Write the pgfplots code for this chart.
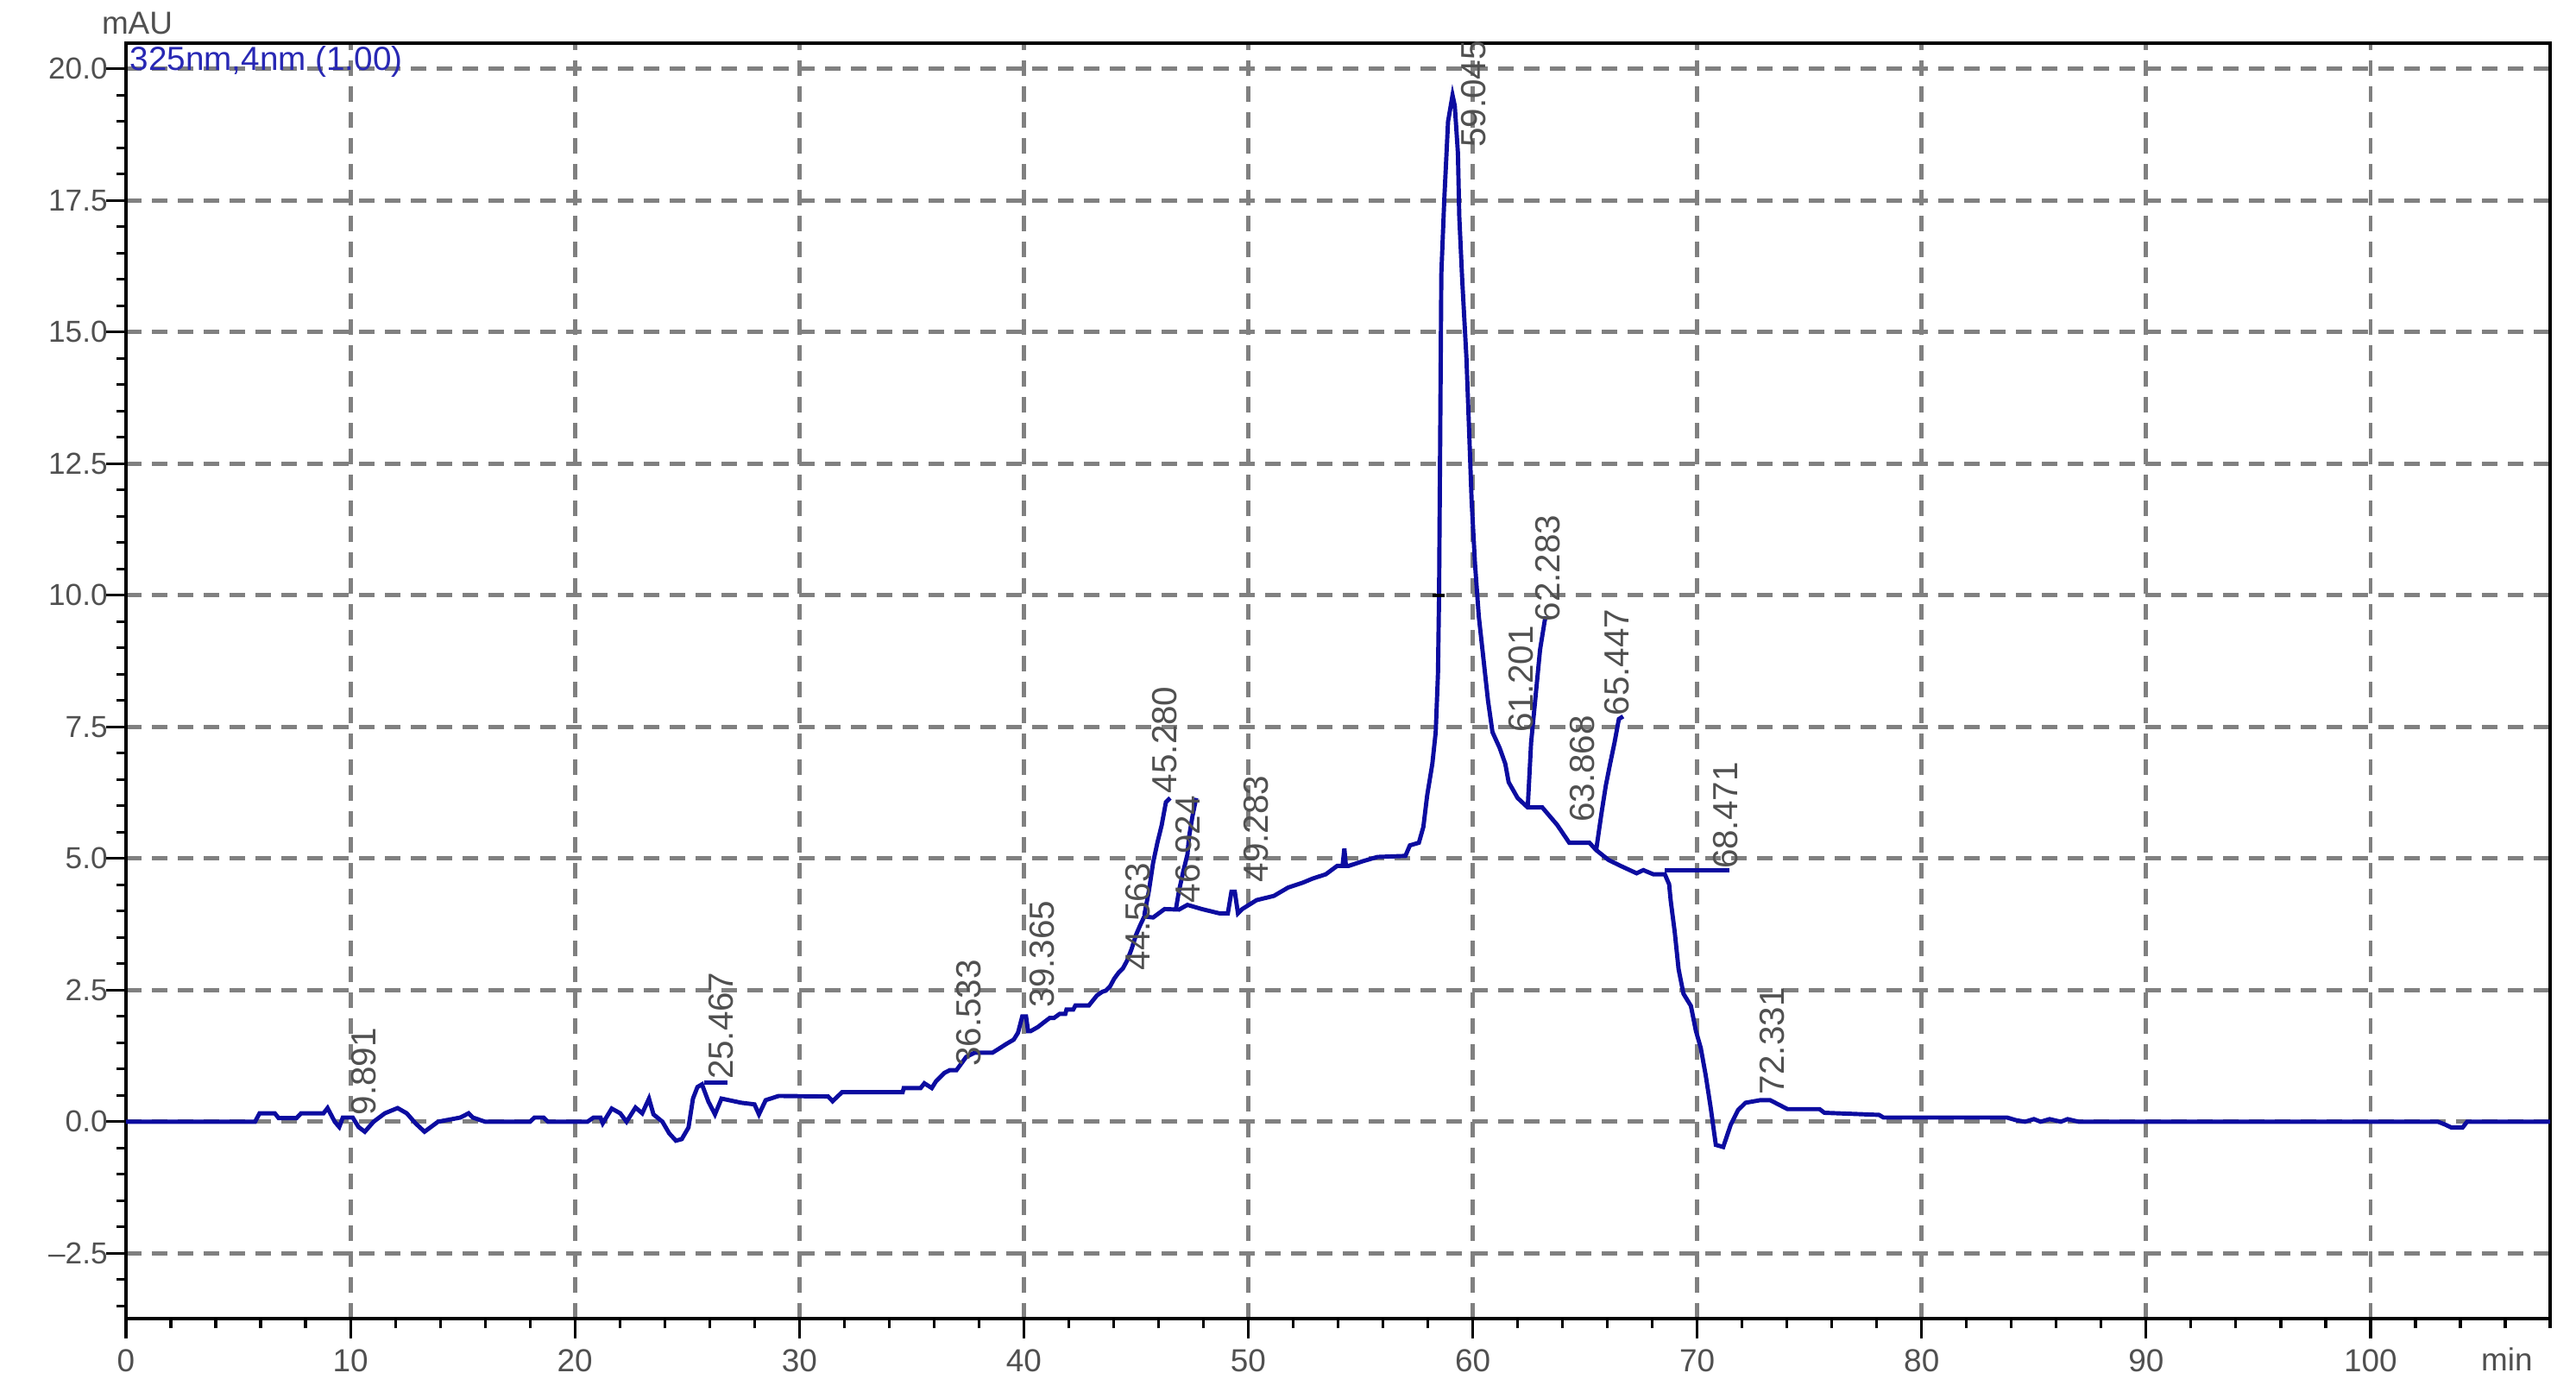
\documentclass[border=0pt]{standalone}
\usepackage{fontspec}
\setmainfont{Liberation Sans}
\usepackage{pgfplots}
\pgfplotsset{compat=1.18}
\definecolor{trace}{HTML}{0C0CA0}
\definecolor{gridc}{HTML}{808080}
\definecolor{lbl}{HTML}{505050}
\definecolor{chan}{HTML}{2828B4}
\tikzset{pk/.style={rotate=90,anchor=west,inner sep=0pt,text=lbl,font=\fontsize{11.5}{12}\selectfont}}

\begin{document}
\begin{tikzpicture}
\useasboundingbox (-14.6mm,-9.1mm) rectangle (283.9mm,152.8mm);
\begin{axis}[at={(0,0)},anchor=south west,
  scale only axis,width=280.9mm,height=147.8mm,
  xmin=0,xmax=108,ymin=-3.74,ymax=20.49,
  axis line style={line width=1.2pt},
  xtick={0,10,...,100},minor xtick={0,2,...,108},
  xticklabels={0,10,20,30,40,50,60,70,80,90,100},
  ytick={-2.5,0,...,20},minor ytick={-3.5,-3,...,20},
  yticklabels={\textendash2.5,0.0,2.5,5.0,7.5,10.0,12.5,15.0,17.5,20.0},
  tick pos=left,tick align=outside,
  major tick length=2.3mm,minor tick length=1.1mm,
  tick style={black,line width=0.9pt},
  grid=major,major grid style={gridc,line width=1.4pt,dash pattern=on 1.8mm off 1.2mm},
  tick label style={font=\fontsize{10.5}{12}\selectfont,text=lbl},
  yticklabel style={font=\fontsize{10}{11}\selectfont,xshift=1.4mm},
  clip=false]

% chromatogram trace
\addplot[trace,line width=1.4pt] coordinates {
(0,0)(5.75,0)(5.95,0.16)(6.63,0.16)(6.8,0.07)(7.6,0.07)(7.8,0.16)(8.8,0.16)(8.98,0.26)(9.3,0)(9.5,-0.1)
(9.66,0.08)(10.1,0.08)(10.36,-0.1)(10.64,-0.19)(11.03,0)(11.53,0.16)(12.1,0.26)(12.51,0.16)(12.9,-0.03)
(13.3,-0.19)(13.9,0)(14.9,0.08)(15.26,0.16)(15.45,0.08)(16.0,0)(18.0,0)(18.2,0.08)(18.6,0.08)(18.8,0)
(20.56,0)(20.83,0.08)(21.14,0.08)(21.24,-0.03)(21.64,0.25)(22.02,0.16)(22.3,0)(22.7,0.27)(23.0,0.16)
(23.3,0.44)(23.5,0.14)(23.9,0)(24.2,-0.22)(24.5,-0.36)(24.76,-0.33)(25.06,-0.11)(25.26,0.44)(25.46,0.66)
(25.66,0.71)(25.95,0.38)(26.24,0.14)(26.53,0.44)(27.42,0.36)(28.0,0.33)(28.2,0.14)(28.5,0.41)(29.08,0.49)
(31.28,0.48)(31.48,0.39)(31.9,0.56)(34.6,0.56)(34.65,0.64)(35.4,0.64)(35.57,0.73)(35.9,0.64)(36.09,0.77)
(36.28,0.85)(36.47,0.93)(36.7,0.98)(37.0,0.98)(37.24,1.12)(37.43,1.23)(37.8,1.31)(38.6,1.31)(38.9,1.39)
(39.23,1.48)(39.55,1.56)(39.74,1.69)(39.93,2.0)(40.1,2.0)(40.19,1.72)(40.3,1.72)(40.63,1.80)(40.9,1.89)
(41.15,1.97)(41.34,1.97)(41.6,2.05)(41.85,2.05)(41.9,2.13)(42.2,2.13)(42.3,2.21)(42.9,2.21)(43.07,2.30)
(43.26,2.4)(43.5,2.47)(43.65,2.49)(43.84,2.57)(44.03,2.72)(44.22,2.83)(44.41,2.91)(44.6,3.06)(44.8,3.28)
(45.0,3.55)(45.18,3.73)(45.37,3.90)(45.76,3.88)(46.27,4.04)(46.91,4.03)(47.29,4.12)(47.93,4.04)(48.7,3.96)
(49.09,3.96)(49.25,4.37)(49.4,4.37)(49.54,3.96)(49.73,4.04)(50.37,4.21)(51.14,4.29)(51.78,4.45)(52.42,4.54)
(52.87,4.62)(53.45,4.70)(53.96,4.86)(54.2,4.86)(54.28,5.19)(54.35,4.86)(54.47,4.86)(55.11,4.95)(55.75,5.03)
(57.0,5.05)(57.2,5.25)(57.6,5.3)(57.8,5.6)(57.97,6.2)(58.2,6.8)(58.35,7.4)(58.45,8.5)(58.5,10.0)(58.55,13)
(58.6,16.1)(58.73,17.5)(58.9,19.0)(59.1,19.5)(59.2,19.3)(59.34,18.4)(59.4,17.2)(59.53,16.0)(59.72,14.5)
(59.85,13.0)(59.95,11.8)(60.1,10.6)(60.27,9.6)(60.45,8.9)(60.68,8.0)(60.88,7.4)(61.2,7.1)(61.45,6.8)
(61.6,6.45)(62.0,6.15)(62.45,5.97)(63.1,5.97)(63.76,5.64)(64.3,5.30)(65.2,5.30)(65.5,5.16)(66.06,4.97)
(66.64,4.85)(67.3,4.72)(67.6,4.78)(68.05,4.70)(68.56,4.70)(68.75,4.51)(68.82,4.2)(69.0,3.6)(69.17,2.90)
(69.39,2.43)(69.72,2.20)(69.94,1.73)(70.16,1.40)(70.38,0.88)(70.6,0.27)(70.83,-0.44)(71.16,-0.48)
(71.49,-0.06)(71.82,0.22)(72.15,0.36)(72.81,0.41)(73.25,0.41)(74.02,0.24)(75.45,0.24)(75.67,0.17)
(78.1,0.13)(78.3,0.08)(83.8,0.08)(84.2,0.03)(84.6,0.0)(85.0,0.05)(85.3,0.0)(85.7,0.05)(86.2,0.0)
(86.5,0.05)(87.0,0)(103.0,0)(103.3,-0.05)(103.6,-0.11)(104.1,-0.11)(104.3,0)(108,0)};

% baselines and peak marks
\addplot[trace,line width=1.4pt] coordinates {(25.75,0.74)(26.8,0.74)};
\addplot[trace,line width=1.4pt] coordinates {(45.37,3.93)(45.57,4.38)(45.76,4.92)(45.95,5.30)(46.14,5.63)(46.33,6.07)(46.52,6.15)};
\addplot[trace,line width=1.4pt] coordinates {(46.78,4.05)(46.91,4.38)(47.1,4.75)(47.29,5.08)(47.36,5.41)(47.52,5.82)(47.68,6.15)};
\addplot[trace,line width=1.4pt] coordinates {(62.45,5.97)(62.6,7.2)(63.0,8.97)(63.2,9.5)(63.25,9.6)};
\addplot[trace,line width=1.4pt] coordinates {(65.5,5.16)(65.6,5.46)(65.75,5.9)(65.93,6.39)(66.12,6.8)(66.32,7.21)(66.51,7.65)(66.7,7.7)};
\addplot[trace,line width=1.4pt] coordinates {(68.56,4.78)(71.44,4.78)};
\addplot[black,line width=1pt] coordinates {(58.2,10.0)(58.75,10.0)};

% retention time labels
\node[pk] at (axis cs:10.6,0.11) {9.891};
\node[pk] at (axis cs:26.5,0.79) {25.467};
\node[pk] at (axis cs:37.55,1.04) {36.533};
\node[pk] at (axis cs:40.8,2.16) {39.365};
\node[pk] at (axis cs:45.1,2.87) {44.563};
\node[pk] at (axis cs:46.27,6.23) {45.280};
\node[pk] at (axis cs:47.3,4.15) {46.924};
\node[pk] at (axis cs:50.35,4.54) {49.283};
\node[pk] at (axis cs:60.05,18.5) {59.045};
\node[pk] at (axis cs:62.16,7.38) {61.201};
\node[pk] at (axis cs:63.33,9.49) {62.283};
\node[pk] at (axis cs:64.87,5.68) {63.868};
\node[pk] at (axis cs:66.41,7.7) {65.447};
\node[pk] at (axis cs:71.26,4.79) {68.471};
\node[pk] at (axis cs:73.36,0.51) {72.331};

\node[anchor=west,inner sep=0pt,text=chan,font=\fontsize{11}{12}\selectfont] at (axis cs:0.15,20.13) {325nm,4nm (1.00)};
\node[text=lbl,font=\fontsize{10.5}{12}\selectfont] at (axis cs:0.5,20.86) {mAU};
\node[text=lbl,font=\fontsize{10.5}{12}\selectfont] at (axis cs:106.07,-4.52) {min};
\end{axis}
\end{tikzpicture}
\end{document}
